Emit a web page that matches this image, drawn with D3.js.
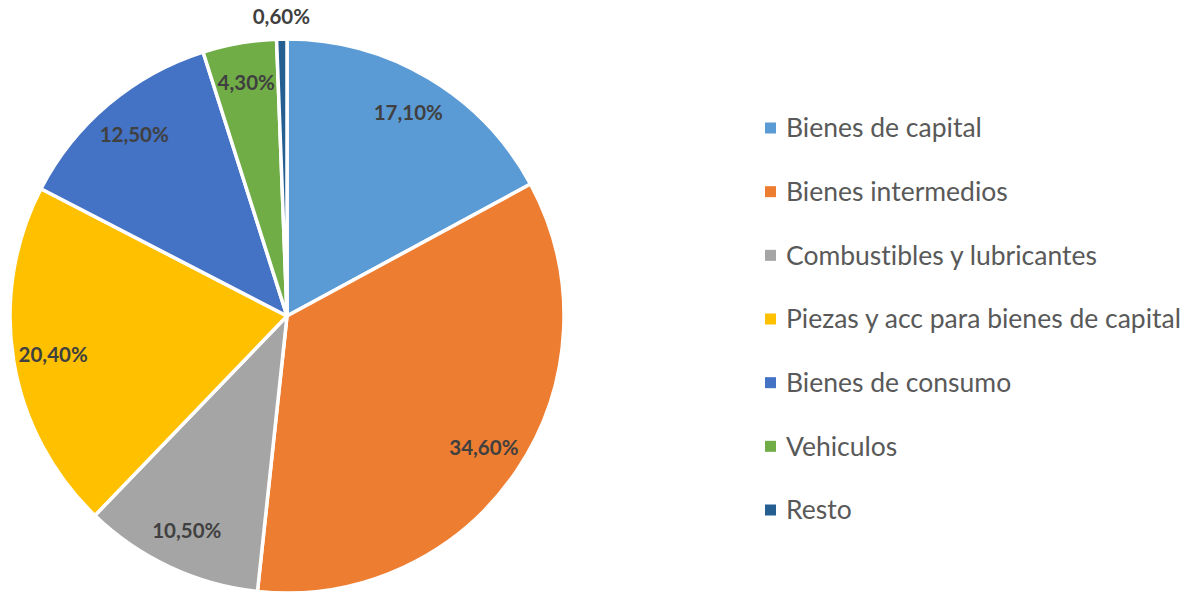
<!DOCTYPE html>
<html>
<head>
<meta charset="utf-8">
<script src="https://cdn.jsdelivr.net/npm/d3@7"></script>
<style>
  body { margin: 0; background: #fff; }
  text { font-variant-ligatures: none; }
</style>
</head>
<body>
<div class="chart"></div>
<script>
var categories = ["Bienes de capital", "Bienes intermedios", "Combustibles y lubricantes",
    "Piezas y acc para bienes de capital", "Bienes de consumo", "Vehiculos", "Resto"];
var shares = [17.1, 34.6, 10.5, 20.4, 12.5, 4.3, 0.6];
var labels = ["17,10%", "34,60%", "10,50%", "20,40%", "12,50%", "4,30%", "0,60%"];
var colors = ["#5B9BD5", "#ED7D31", "#A5A5A5", "#FFC000", "#4472C4", "#70AD47", "#255E91"];

var svgWidth = 1200;
var svgHeight = 593;
var cx = 287, cy = 316, radius = 277;

var svg = d3.select(".chart")
    .append("svg")
    .attr("width", svgWidth)
    .attr("height", svgHeight);

var pieGroup = svg.append("g")
    .attr("transform", `translate(${cx}, ${cy})`);

var pie = d3.pie().sort(null).value(d => d);
var arcs = pie(shares);

var arc = d3.arc().innerRadius(0).outerRadius(radius);
var labelArc = d3.arc().innerRadius(237).outerRadius(237);
var outerArc = d3.arc().innerRadius(299).outerRadius(299);

pieGroup.selectAll("path")
    .data(arcs)
    .enter()
    .append("path")
    .attr("d", arc)
    .attr("fill", (d, i) => colors[i])
    .attr("stroke", "#fff")
    .attr("stroke-width", 3.5)
    .attr("stroke-linejoin", "round");

pieGroup.selectAll(".lbl")
    .data(arcs)
    .enter()
    .append("text")
    .attr("class", "lbl")
    .attr("transform", function(d) {
        var p = d.data < 1 ? outerArc.centroid(d) : labelArc.centroid(d);
        return `translate(${p[0]}, ${p[1]})`;
    })
    .attr("dy", "0.35em")
    .attr("text-anchor", "middle")
    .attr("font-family", "Lato, 'Open Sans', sans-serif")
    .attr("font-weight", "bold")
    .attr("font-size", "20.5px")
    .attr("fill", "#404040")
    .text((d, i) => labels[i]);

// legend
var legendY = d3.scalePoint()
    .domain(categories)
    .range([128, 510]);

var legend = svg.append("g");

var rows = legend.selectAll("g")
    .data(categories)
    .enter()
    .append("g")
    .attr("transform", d => `translate(765, ${legendY(d)})`);

rows.append("rect")
    .attr("x", 0)
    .attr("y", -5.5)
    .attr("width", 11)
    .attr("height", 11)
    .attr("fill", (d, i) => colors[i]);

rows.append("text")
    .attr("x", 21)
    .attr("dy", "0.35em")
    .attr("font-family", "Lato, 'Open Sans', sans-serif")
    .attr("font-size", "26.5px")
    .attr("fill", "#595959")
    .text(d => d);
</script>
</body>
</html>
